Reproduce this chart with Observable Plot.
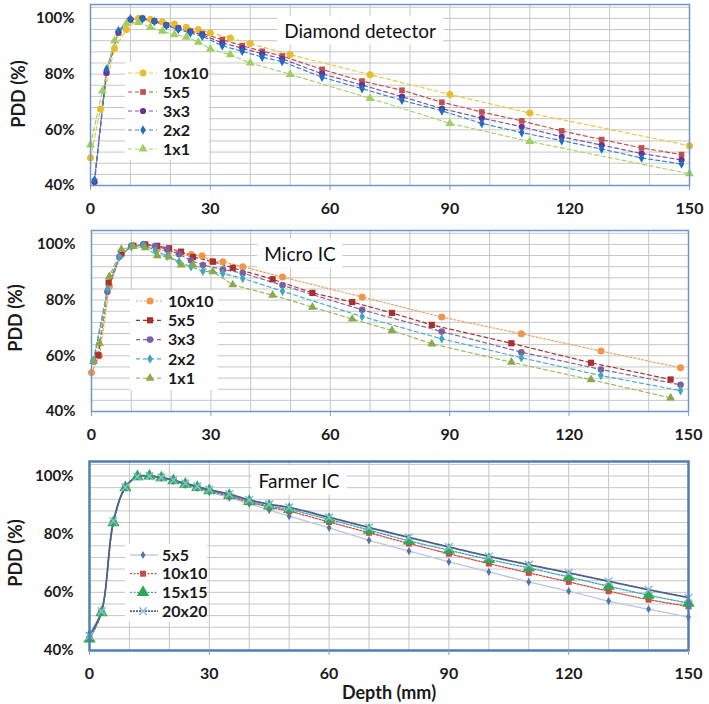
<!DOCTYPE html>
<html>
<head>
<meta charset="utf-8">
<script src="https://cdn.jsdelivr.net/npm/d3@7"></script>
<script src="https://cdn.jsdelivr.net/npm/@observablehq/plot@0.6"></script>
<style>
  body { margin: 0; background: #fff; }
  #wrap { position: relative; width: 709px; height: 704px; overflow: hidden; font-family: Lato, "Open Sans", sans-serif; color: #1a1a1a; }
  .panel { position: absolute; left: 0; }
  .ylab { position: absolute; font-weight: 700; font-size: 18px; white-space: nowrap; transform: translate(-50%, -50%) rotate(-90deg); }
  .title { position: absolute; background: #fff; font-size: 19px; padding: 3px 7px; white-space: nowrap; transform: translate(-50%, -50%); color: #111; }
  .xlab { position: absolute; font-weight: 700; font-size: 18px; line-height: 20px; white-space: nowrap; transform: translate(-50%, -50%); }
</style>
</head>
<body>
<div id="wrap"></div>
<script>
// ---------- shared ticks ----------
const depthTicks = [0, 30, 60, 90, 120, 150];
const pddTicks = [40, 60, 80, 100];
const xLabel = "Depth (mm)";
const yLabel = "PDD (%)";

// ---------- Panel 1: Diamond detector ----------
const diamondTitle = "Diamond detector";
const diamondNames = ["10x10", "5x5", "3x3", "2x2", "1x1"];
const dia10x10Depth = [0, 2.5, 6, 9, 12, 15, 18, 21, 24, 27, 30, 35, 40, 50, 70, 90, 110, 150];
const dia10x10Pdd   = [50, 67.5, 89.2, 96, 100, 99.6, 98.7, 98, 96.8, 96, 94.8, 93, 91, 87, 79.8, 72.7, 66, 54.3];
const diaSmallDepth = [1, 4, 7, 10, 13, 16, 19, 22, 25, 28, 33, 38, 43, 48, 58, 68, 78, 88, 98, 108, 118, 128, 138, 148];
const dia5x5Pdd     = [41.5, 80.5, 94.8, 99.5, 100, 99, 97.6, 96.5, 95.4, 94.6, 92.4, 90.2, 88.2, 86.5, 81.7, 77.5, 74.2, 69.9, 66.4, 63.2, 59.6, 56.5, 53.5, 51.1];
const dia3x3Pdd     = [41.3, 80.5, 95, 99.7, 100, 99, 97.6, 96.4, 95.3, 94.1, 91.2, 89.3, 87.3, 85.5, 80.1, 76.1, 71.9, 67.6, 64.2, 61.1, 57.5, 54.5, 51.5, 49.2];
const dia2x2Pdd     = [42, 81.7, 95.6, 99.9, 99.8, 98.9, 97.4, 96, 94.8, 93.6, 90.2, 88.2, 86.1, 84.5, 78.9, 74.8, 70.6, 66.8, 62.3, 59, 56.1, 53.1, 49.9, 47.7];
const dia1x1Depth   = [0, 3, 6, 9, 12, 15, 18, 21, 24, 27, 30, 35, 40, 50, 70, 90, 110, 150];
const dia1x1Pdd     = [54.6, 74, 92, 98.2, 98.6, 96.8, 95.4, 94.2, 93.3, 91.5, 89, 87, 84, 79.9, 71.3, 62.3, 55.8, 44.2];

// ---------- Panel 2: Micro IC ----------
const microTitle = "Micro IC";
const microNames = ["10x10", "5x5", "3x3", "2x2", "1x1"];
const micro10x10Depth = [0, 2, 4.5, 7.5, 10.5, 13.4, 16.5, 19.4, 22.1, 25.1, 27.8, 30.3, 33, 38, 48, 68, 88, 108, 128, 148];
const micro10x10Pdd   = [54, 60, 85, 96.5, 99.5, 100, 98.3, 97.6, 97.1, 96.4, 95.9, 94, 93.8, 92, 88.3, 81.1, 73.9, 67.9, 61.7, 55.7];
const micro5x5Depth   = [1.7, 4.3, 7.5, 10.5, 13.5, 16.5, 19.5, 22.5, 25.5, 30.5, 35.5, 45.5, 55.5, 65.5, 75.5, 85.5, 105.5, 125.5, 145.5];
const micro5x5Pdd     = [60.2, 86.3, 96.8, 99.5, 100, 99.5, 98.6, 97.4, 95.5, 93.8, 91.6, 87.5, 82.6, 79.3, 75.4, 71.1, 64.5, 57.5, 51.5];
const microMidDepth   = [0.5, 4, 7, 10, 13, 16, 19, 22, 25, 28, 33, 38, 48, 68, 88, 108, 128, 148];
const micro3x3Pdd     = [58, 83, 95.6, 99.4, 100, 99.4, 98.2, 96.5, 94.2, 92.6, 91, 89.7, 85.3, 76.5, 68.7, 61.3, 55.1, 49.6];
const micro2x2Pdd     = [58.4, 84, 95.6, 99.2, 99.8, 97.8, 95.8, 93.8, 92, 90.4, 89.6, 87.8, 83.2, 74.1, 66.1, 59.3, 52.9, 47.5];
const micro1x1Depth   = [0.5, 2, 4.5, 7.5, 10.5, 13.5, 16.5, 19.5, 22.5, 25.5, 30.5, 35.5, 45.5, 55.5, 65.5, 75.5, 85.5, 105.5, 125.5, 145.5];
const micro1x1Pdd     = [58, 64.5, 88.5, 98.2, 99.3, 98.8, 96, 95.5, 92.6, 92.6, 90.2, 85.5, 81.8, 77.5, 73.2, 69.1, 64.3, 57.7, 51.4, 44.9];

// ---------- Panel 3: Farmer IC ----------
const farmerTitle = "Farmer IC";
const farmerNames = ["5x5", "10x10", "15x15", "20x20"];
const farmerDepth    = [0, 3, 6, 9, 12, 15, 18, 21, 24, 27, 30, 35, 40, 45, 50, 60, 70, 80, 90, 100, 110, 120, 130, 140, 150];
const farmer5x5Pdd   = [46, 53.5, 84, 96, 99.8, 100, 99.3, 98.3, 97, 95.8, 94.5, 92.6, 90.5, 88.3, 86.2, 82.2, 77.9, 74.2, 70.5, 67, 63.6, 60.4, 57, 54.2, 51.5];
const farmer10x10Pdd = [44, 53, 84, 96, 99.8, 100, 99.4, 98.4, 97.2, 96.1, 94.9, 93, 91, 89.3, 87.9, 84.2, 80.5, 76.8, 73.3, 69.9, 66.7, 63.6, 60.4, 57.5, 55.2];
const farmer15x15Pdd = [44, 53, 84, 96, 99.8, 100, 99.4, 98.4, 97.2, 96.1, 95, 93.3, 91.3, 89.7, 88.5, 85.1, 81.4, 77.7, 74.5, 71.3, 68.4, 65.3, 62.1, 59, 56.3];
const farmer20x20Pdd = [45, 53.5, 84.5, 96.2, 99.8, 100, 99.5, 98.6, 97.5, 96.4, 95.3, 93.8, 91.8, 90.3, 89.2, 85.8, 82.3, 78.9, 75.6, 72.4, 69.5, 66.7, 63.8, 60.9, 58.2];

// ---------- rendering ----------
const wrap = document.getElementById("wrap");
const symbolMap = { circle: d3.symbolCircle, square: d3.symbolSquare, diamond: d3.symbolDiamond, triangle: d3.symbolTriangle, times: d3.symbolTimes };

function toRows(depth, pdd) { return depth.map((d, i) => ({ depth: d, pdd: pdd[i] })); }

function makePanel(cfg) {
  const marks = [
    Plot.gridY(d3.range(40, 105, 4), { stroke: "#c6c6c6", strokeOpacity: 1, strokeWidth: 1 }),
    Plot.gridX(d3.range(0, 151, 10), { stroke: "#c6c6c6", strokeOpacity: 1, strokeWidth: 1 })
  ];
  for (const s of cfg.series) {
    marks.push(Plot.line(toRows(s.depth, s.pdd), {
      x: "depth", y: "pdd", stroke: s.line, strokeWidth: s.lw, strokeDasharray: s.dash,
      strokeOpacity: s.lo ?? 1, curve: cfg.curve
    }));
  }
  for (const s of cfg.series) {
    const opts = { x: "depth", y: "pdd", symbol: s.symbol, r: s.r };
    if (s.symbol === "times") { opts.stroke = s.color; opts.strokeWidth = 1.5; }
    else { opts.fill = s.color; }
    marks.push(Plot.dot(toRows(s.depth, s.pdd), opts));
  }
  marks.push(Plot.frame({ stroke: cfg.frameColor, strokeWidth: cfg.frameWidth }));
  marks.push(Plot.axisY(pddTicks, { tickFormat: d => d + "%", tickSize: 0, tickPadding: 16, fontSize: 15, fontWeight: "bold", label: null }));
  marks.push(Plot.axisX(depthTicks, { tickSize: 5, tickPadding: 12, fontSize: 16, fontWeight: "bold", stroke: "#9a9a9a", label: null }));
  const plot = Plot.plot({
    width: 709, height: cfg.height,
    marginTop: 4, marginBottom: cfg.mb, marginLeft: cfg.ml, marginRight: cfg.mr,
    x: { domain: [0, 150] }, y: { domain: [40, 105] },
    style: { fontFamily: "Lato, 'Open Sans', sans-serif", color: "#1a1a1a", background: "transparent" },
    marks
  });
  const div = document.createElement("div");
  div.className = "panel";
  div.style.top = cfg.top + "px";
  div.appendChild(plot);
  wrap.appendChild(div);

  const t = document.createElement("div");
  t.className = "title"; t.textContent = cfg.title;
  t.style.left = cfg.titleX + "px"; t.style.top = cfg.titleY + "px";
  wrap.appendChild(t);

  const yl = document.createElement("div");
  yl.className = "ylab"; yl.textContent = yLabel;
  yl.style.left = cfg.ylabX + "px"; yl.style.top = cfg.ylabY + "px";
  wrap.appendChild(yl);

  const lg = cfg.legend;
  const svg = d3.select(wrap).append("svg")
    .style("position", "absolute").style("left", lg.x + "px").style("top", lg.y + "px")
    .attr("width", lg.w).attr("height", lg.h);
  svg.append("rect").attr("width", lg.w).attr("height", lg.h).attr("fill", "#fff");
  cfg.series.forEach((s, i) => {
    const cy = lg.row0 + i * lg.rowH;
    svg.append("line").attr("x1", lg.l0).attr("x2", lg.l1).attr("y1", cy).attr("y2", cy)
      .attr("stroke", s.line).attr("stroke-width", s.lw).attr("stroke-dasharray", s.dash || null)
      .attr("stroke-opacity", s.lo ?? 1);
    const p = svg.append("path").attr("d", d3.symbol(symbolMap[s.symbol], Math.PI * s.r * s.r)())
      .attr("transform", `translate(${lg.m},${cy})`);
    if (s.symbol === "times") p.attr("fill", "none").attr("stroke", s.color).attr("stroke-width", 1.5);
    else p.attr("fill", s.color);
    svg.append("text").attr("x", lg.tx).attr("y", cy).attr("dy", "0.35em")
      .attr("font-size", 16).attr("font-weight", 700).attr("fill", "#1a1a1a")
      .attr("font-family", "Lato, 'Open Sans', sans-serif").text(s.name);
  });
}

// Panel 1
makePanel({
  top: 0, height: 225, mb: 40, ml: 90, mr: 20, curve: "linear",
  frameColor: "#6b98c9", frameWidth: 1.5,
  title: diamondTitle, titleX: 360, titleY: 30, ylabX: 18, ylabY: 94,
  legend: { x: 125, y: 62, w: 84, h: 98, row0: 11, rowH: 19, l0: 3, l1: 32, m: 18, tx: 38 },
  series: [
    { name: diamondNames[0], depth: dia10x10Depth, pdd: dia10x10Pdd, color: "#e6bd2c", line: "#ecc84a", lw: 1.2, dash: "4,3", symbol: "circle", r: 3.5 },
    { name: diamondNames[1], depth: diaSmallDepth, pdd: dia5x5Pdd, color: "#c0504d", line: "#c0504d", lw: 1.2, dash: "4,3", symbol: "square", r: 3.2 },
    { name: diamondNames[2], depth: diaSmallDepth, pdd: dia3x3Pdd, color: "#6a2f9a", line: "#7a52a8", lw: 1.2, dash: "4,3", symbol: "circle", r: 3.1 },
    { name: diamondNames[3], depth: diaSmallDepth, pdd: dia2x2Pdd, color: "#1f6fbf", line: "#3a84c8", lw: 1.2, dash: "4,3", symbol: "diamond", r: 2.9 },
    { name: diamondNames[4], depth: dia1x1Depth, pdd: dia1x1Pdd, color: "#9bcf5e", line: "#a8d46c", lw: 1.2, dash: "4,3", symbol: "triangle", r: 3.3 }
  ]
});

// Panel 2
makePanel({
  top: 226, height: 225, mb: 40, ml: 91, mr: 21, curve: "linear",
  frameColor: "#6b98c9", frameWidth: 1.5,
  title: microTitle, titleX: 300, titleY: 253, ylabX: 15, ylabY: 318,
  legend: { x: 130, y: 290, w: 88, h: 100, row0: 11, rowH: 19.3, l0: 6, l1: 33, m: 20, tx: 38 },
  series: [
    { name: microNames[0], depth: micro10x10Depth, pdd: micro10x10Pdd, color: "#f0964a", line: "#f0a060", lw: 1.2, dash: "2,2", symbol: "circle", r: 3.5 },
    { name: microNames[1], depth: micro5x5Depth, pdd: micro5x5Pdd, color: "#a8302e", line: "#a8302e", lw: 1.2, dash: "4,3", symbol: "square", r: 3.5 },
    { name: microNames[2], depth: microMidDepth, pdd: micro3x3Pdd, color: "#7b5fa0", line: "#8066a4", lw: 1.2, dash: "4,3", symbol: "circle", r: 3.3 },
    { name: microNames[3], depth: microMidDepth, pdd: micro2x2Pdd, color: "#3fa8bd", line: "#4bacc6", lw: 1.2, dash: "4,3", symbol: "diamond", r: 2.9 },
    { name: microNames[4], depth: micro1x1Depth, pdd: micro1x1Pdd, color: "#8aa84e", line: "#9bbb59", lw: 1.2, dash: "4,3", symbol: "triangle", r: 3.3 }
  ]
});

// Panel 3
makePanel({
  top: 457, height: 247, mb: 54, ml: 89, mr: 21, curve: "catmull-rom",
  frameColor: "#4f7fb4", frameWidth: 2.5,
  title: farmerTitle, titleX: 299, titleY: 480, ylabX: 15, ylabY: 553,
  legend: { x: 125, y: 544, w: 82, h: 78, row0: 11, rowH: 18.7, l0: 5, l1: 33, m: 18, tx: 37 },
  series: [
    { name: farmerNames[0], depth: farmerDepth, pdd: farmer5x5Pdd, color: "#4f74b0", line: "#b9c7da", lw: 1.3, dash: null, symbol: "diamond", r: 2.5 },
    { name: farmerNames[1], depth: farmerDepth, pdd: farmer10x10Pdd, color: "#c0504d", line: "#c9504a", lw: 1.3, dash: "2,1.5", symbol: "square", r: 3.4 },
    { name: farmerNames[2], depth: farmerDepth, pdd: farmer15x15Pdd, color: "#2faa52", line: "#3aa5b8", lw: 1.3, dash: "2,1.5", symbol: "triangle", r: 4.6 },
    { name: farmerNames[3], depth: farmerDepth, pdd: farmer20x20Pdd, color: "#8cb8e0", line: "#4e6088", lw: 1.8, dash: "2,1", symbol: "times", r: 3.6 }
  ]
});

// x-axis label
const xl = document.createElement("div");
xl.className = "xlab"; xl.textContent = xLabel;
xl.style.left = "389px"; xl.style.top = "692px";
wrap.appendChild(xl);
</script>
</body>
</html>
